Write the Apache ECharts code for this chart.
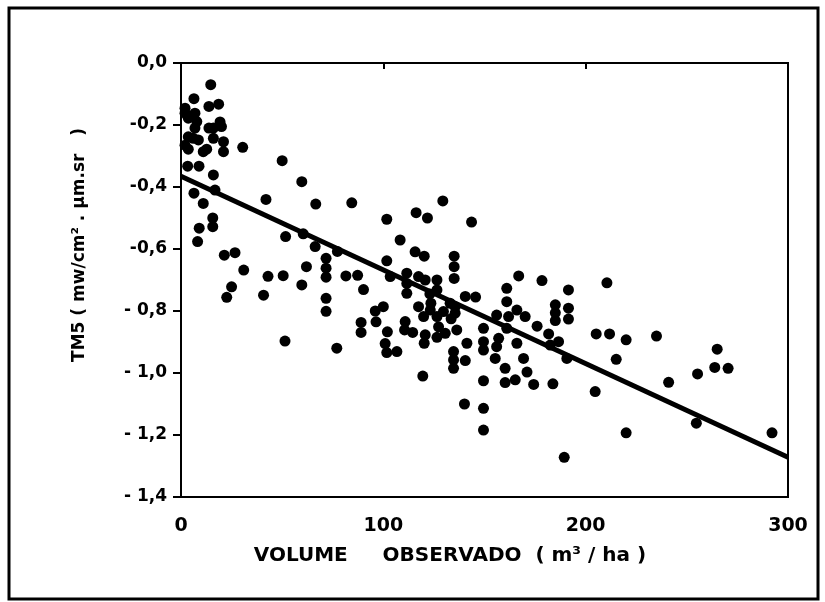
<!DOCTYPE html>
<html>
<head>
<meta charset="utf-8">
<script src="https://cdn.jsdelivr.net/npm/echarts@6/dist/echarts.min.js"></script>
<style>html,body{margin:0;padding:0;background:#fff}#c{width:825px;height:602px}</style>
</head>
<body>
<div id="c"></div>
<script>
// Volume observado (m3/ha)
const volume = [
 14.7,6.4,13.8,18.6,2,2,3.6,6.9,7.8,6.9,19.3,20,13.8,16,2,3.6,6.1,8.6,11,12.7,16,21,21,30.5,3.3,8.9,16,6.4,16.8,11,9,15.7,15.7,8.2,3.6,
 42,50,59.7,66.6,21.4,26.7,31,43,50.5,62,25,22.6,40.8,59.7,51.7,60.4,51.4,66.3,71.7,71.7,71.7,71.7,71.7,77.3,81.5,87.3,90.2,77,84.4,89,89,
 96,96.4,100,101.7,101.7,102,100.9,101.7,106.7,103.4,108.3,111.6,111.6,111.6,110.8,110.5,114.5,116.2,121.8,115.7,120.2,117.4,120.7,117.4,119.9,123.2,120.7,120.2,119.5,
 126.5,126.5,126.5,127.3,129.7,135.5,135.5,126.5,130.6,136.3,129.4,135,135,135,134.7,134.7,134.7,140.5,145.6,143.6,141.3,140.5,140.1,
 149.5,149.5,149.5,149.5,149.5,149.5,155.3,156,161.9,161,157,156,161,161,166.9,166,170.1,166,169.3,160.2,171,165.2,160.2,174.3,176,178.4,
 181.7,186.6,182.5,183.8,185,185,185,191.5,191.5,191.5,190.7,189.4,205.2,211.8,210.5,220,235,215.1,204.7,220,241,255.3,265,263.8,270.4,254.7,292.1,
 123,123.5,133,133.5
];
// TM5 (mw/cm2.um.sr)
const tm5 = [
 -0.07,-0.115,-0.14,-0.133,-0.146,-0.162,-0.178,-0.162,-0.189,-0.21,-0.19,-0.205,-0.21,-0.21,-0.265,-0.278,-0.243,-0.248,-0.286,-0.278,-0.243,-0.254,-0.286,-0.272,-0.333,-0.333,-0.361,-0.42,-0.41,-0.453,-0.533,-0.50,-0.528,-0.576,-0.238,
 -0.44,-0.315,-0.383,-0.455,-0.62,-0.612,-0.668,-0.688,-0.686,-0.657,-0.722,-0.756,-0.749,-0.716,-0.56,-0.551,-0.897,-0.592,-0.63,-0.662,-0.691,-0.759,-0.801,-0.608,-0.687,-0.685,-0.731,-0.92,-0.451,-0.837,-0.869,
 -0.80,-0.835,-0.786,-0.504,-0.638,-0.867,-0.905,-0.934,-0.931,-0.689,-0.571,-0.678,-0.711,-0.743,-0.834,-0.861,-0.869,-0.483,-0.50,-0.609,-0.623,-0.689,-0.70,-0.786,-0.818,-0.797,-0.877,-0.904,-1.01,
 -0.70,-0.732,-0.818,-0.851,-0.802,-0.786,-0.807,-0.885,-0.872,-0.861,-0.445,-0.623,-0.657,-0.695,-0.931,-0.958,-0.985,-0.753,-0.755,-0.513,-0.904,-0.96,-1.10,
 -0.856,-0.899,-0.926,-1.025,-1.114,-1.184,-0.953,-0.813,-0.818,-0.856,-0.888,-0.915,-0.727,-0.77,-0.687,-0.797,-0.818,-0.904,-0.953,-0.985,-0.997,-1.022,-1.031,-1.037,-0.849,-0.702,
 -0.874,-0.899,-0.91,-1.035,-0.78,-0.806,-0.831,-0.732,-0.791,-0.826,-0.953,-1.272,-0.874,-0.874,-0.709,-0.893,-0.881,-0.956,-1.06,-1.193,-1.03,-1.003,-0.923,-0.982,-0.985,-1.162,-1.193,
 -0.745,-0.775,-0.775,-0.825
];
// regression line end points
const lineX = [0, 300];
const lineY = [-0.365, -1.272];
const xTicks = {0:'0',100:'100',200:'200',300:'300'};
const yTickLabels = ['0,0','-0,2','-0,4','-0,6','- 0,8','- 1,0','- 1,2','- 1,4'];

const pts = volume.map((v,i)=>[v,tm5[i]]);
const linePts = lineX.map((v,i)=>[v,lineY[i]]);
const font = 'DejaVu Sans';

const chart = echarts.init(document.getElementById('c'));
chart.setOption({
  animation:false,
  backgroundColor:'#fff',
  grid:{left:181,right:37,top:63,bottom:105,show:true,borderColor:'#000',borderWidth:2},
  xAxis:{type:'value',min:0,max:300,interval:100,
    axisLine:{lineStyle:{color:'#000',width:2}},
    axisTick:{show:true,length:6,lineStyle:{color:'#000',width:2}},
    splitLine:{show:false},
    axisLabel:{color:'#000',fontSize:19,fontFamily:font,fontWeight:'bold',margin:20,formatter:v=>xTicks[Math.round(v)]}},
  yAxis:{type:'value',min:-1.4,max:0,interval:0.2,
    axisLine:{lineStyle:{color:'#000',width:2}},
    axisTick:{show:true,length:8,lineStyle:{color:'#000',width:2}},
    splitLine:{show:false},
    axisLabel:{color:'#000',fontSize:17,fontFamily:font,fontWeight:'bold',margin:14,
      formatter:v=>yTickLabels[Math.round(-v/0.2)]}},
  series:[
    {type:'scatter',data:pts,symbol:'circle',symbolSize:11,itemStyle:{color:'#000',opacity:1},silent:true},
    {type:'line',data:linePts,symbol:'none',lineStyle:{color:'#000',width:5},silent:true}
  ],
  graphic:[
    {type:'rect',shape:{x:9,y:8,width:809,height:591},style:{fill:null,stroke:'#000',lineWidth:3},z:-1},
    {type:'text',x:80,y:245,rotation:Math.PI/2,
      style:{text:'TM5 ( mw/cm² . µm.sr   )',font:'bold 17px "DejaVu Sans"',fill:'#000',align:'center',verticalAlign:'middle'}},
    {type:'text',x:450,y:556,
      style:{text:'VOLUME     OBSERVADO  ( m³ / ha )',font:'bold 20px "DejaVu Sans"',fill:'#000',align:'center',verticalAlign:'middle'}}
  ]
});
</script>
</body>
</html>
